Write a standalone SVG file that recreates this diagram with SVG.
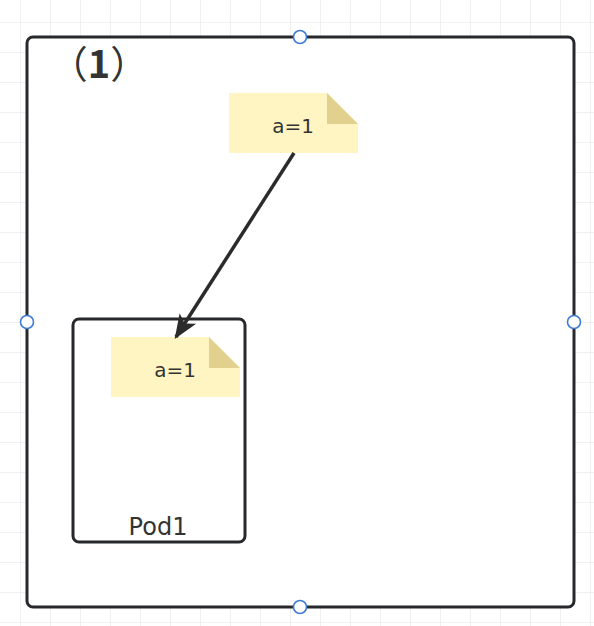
<svg xmlns="http://www.w3.org/2000/svg" width="594" height="626" viewBox="0 0 594 626">
<defs>
<pattern id="grid" x="20" y="22" width="30" height="30" patternUnits="userSpaceOnUse">
<path d="M0 0V30M0 0H30" fill="none" stroke="#ececec" stroke-width="1.5"/>
</pattern>
<marker id="arrow" viewBox="0 0 20 20" refX="18" refY="10" markerWidth="7" markerHeight="7" markerUnits="strokeWidth" orient="auto">
<path d="M0 2 L20 10 L0 18 L5 10 Z" fill="#2b2b2b"/>
</marker>
<style>
.box{fill:#ffffff;stroke:#26282c;stroke-width:3}
.note{fill:#fff5c2}
.fold{fill:#e2d08e}
.t{font-family:"DejaVu Sans","Noto Sans",sans-serif;fill:#333333}
.handle{fill:#ffffff;stroke:#3d7bd6;stroke-width:1.6}
</style>
</defs>
<rect width="594" height="626" fill="#ffffff"/>
<rect width="594" height="626" fill="url(#grid)"/>
<g id="container">
<rect class="box" x="27" y="37" width="547" height="570" rx="6"/>
<text x="99" y="78" font-size="38" text-anchor="middle" fill="#333333" font-family="'Noto Sans CJK SC','DejaVu Sans',sans-serif">（<tspan font-weight="bold">1</tspan>）</text>
</g>
<g id="pod1">
<rect class="box" x="73" y="319" width="172" height="223" rx="6"/>
<text class="t" x="158" y="535" font-size="24" text-anchor="middle">Pod1</text>
</g>
<g id="note-top">
<path class="note" d="M229 93H327L358 124V153H229Z"/>
<path class="fold" d="M327 93L358 124H327Z"/>
<text class="t" x="293" y="133" font-size="20" text-anchor="middle">a=1</text>
</g>
<g id="note-pod">
<path class="note" d="M111 337H209L240 368V397H111Z"/>
<path class="fold" d="M209 337L240 368H209Z"/>
<text class="t" x="175" y="377" font-size="20" text-anchor="middle">a=1</text>
</g>
<g id="connectors">
<line x1="294" y1="153" x2="176" y2="337" stroke="#2b2b2b" stroke-width="3.5" marker-end="url(#arrow)"/>
</g>
<g id="handles">
<circle class="handle" cx="300" cy="37" r="6.5"/>
<circle class="handle" cx="27" cy="322" r="6.5"/>
<circle class="handle" cx="574" cy="322" r="6.5"/>
<circle class="handle" cx="300" cy="607" r="6.5"/>
</g>
</svg>
